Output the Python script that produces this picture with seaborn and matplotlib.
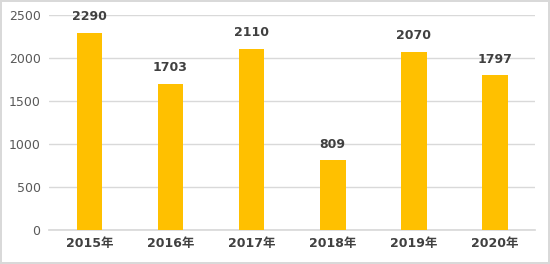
import matplotlib
matplotlib.use("Agg")
import matplotlib.pyplot as plt
import seaborn as sns
import pandas as pd

years = ["2015年", "2016年", "2017年", "2018年", "2019年", "2020年"]
values = [2290, 1703, 2110, 809, 2070, 1797]
yticks = [0, 500, 1000, 1500, 2000, 2500]

sns.set_theme(style="white")
plt.rcParams['font.family'] = ['DejaVu Sans', 'Noto Sans CJK SC']

df = pd.DataFrame({"year": years, "value": values})

fig = plt.figure(figsize=(5.5, 2.64), dpi=100)
fig.patch.set_edgecolor("#d9d9d9")
fig.patch.set_linewidth(1.5)
ax = fig.add_axes([0.089, 0.129, 0.884, 0.814])

sns.barplot(data=df, x="year", y="value", color="#FFC000", width=0.32,
            saturation=1, linewidth=0, ax=ax, zorder=3)

ax.set_ylim(0, 2500)
ax.set_yticks(yticks)
ax.set_xlim(-0.5, len(years) - 0.5)
ax.grid(axis="y", color="#d9d9d9", linewidth=1, zorder=0)
for s in ["top", "right", "left"]:
    ax.spines[s].set_visible(False)
ax.spines["bottom"].set_color("#d9d9d9")
ax.set_xlabel("")
ax.set_ylabel("")
ax.tick_params(axis="y", labelsize=9, colors="#595959", length=0, pad=6)
ax.tick_params(axis="x", labelsize=9, colors="#404040", length=0, pad=5)
for lbl in ax.get_xticklabels():
    lbl.set_fontweight("bold")

for c in ax.containers:
    ax.bar_label(c, labels=[str(v) for v in values], padding=7,
                 fontsize=9, fontweight="bold", color="#404040")

fig.savefig("out.png", dpi=100, edgecolor=fig.get_edgecolor())
